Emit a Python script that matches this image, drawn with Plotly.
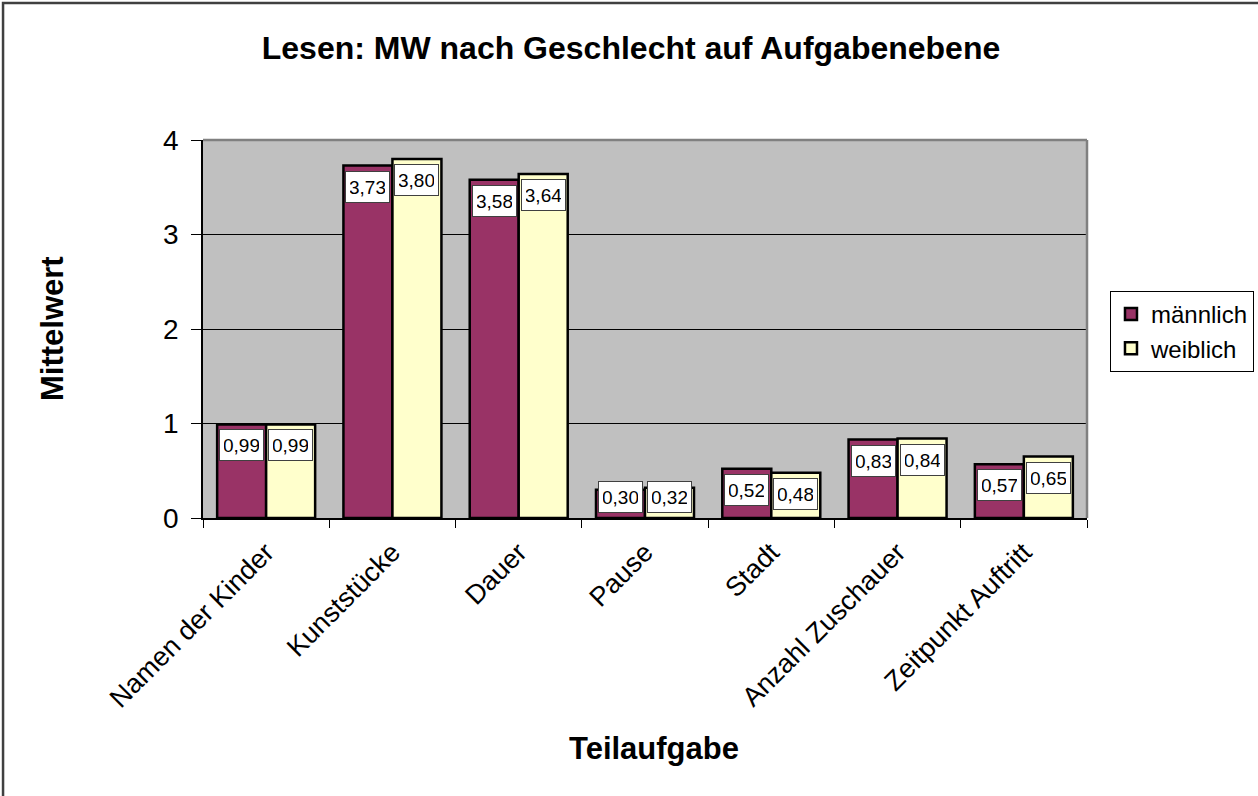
import plotly.graph_objects as go

categories = ["Namen der Kinder", "Kunststücke", "Dauer", "Pause", "Stadt",
              "Anzahl Zuschauer", "Zeitpunkt Auftritt"]
maennlich = [0.99, 3.73, 3.58, 0.30, 0.52, 0.83, 0.57]
weiblich = [0.99, 3.80, 3.64, 0.32, 0.48, 0.84, 0.65]
y_ticks = [0, 1, 2, 3, 4]

FONT = "Arial, Liberation Sans, sans-serif"

fig = go.Figure()
fig.add_trace(go.Bar(name="männlich", x=categories, y=maennlich,
                     marker=dict(color="#993366", line=dict(color="black", width=2.5))))
fig.add_trace(go.Bar(name="weiblich", x=categories, y=weiblich,
                     marker=dict(color="#FFFFCC", line=dict(color="black", width=2.5))))

annotations = []
for series, shift in ((maennlich, -24.5), (weiblich, 24.5)):
    for cat, v in zip(categories, series):
        txt = f"{v:.2f}".replace(".", ",")
        common = dict(x=cat, xshift=shift, text=txt, showarrow=False,
                      font=dict(family=FONT, size=19, color="black"),
                      width=35, height=22,
                      bgcolor="white", bordercolor="#404040", borderwidth=1, borderpad=4)
        if v < 0.45:
            annotations.append(dict(y=0, yanchor="bottom", yshift=5, **common))
        else:
            annotations.append(dict(y=v, yanchor="top", yshift=-5, **common))

# axis titles
annotations.append(dict(xref="paper", yref="paper", x=-0.1708, y=0.5, text="<b>Mittelwert</b>",
                        textangle=-90, showarrow=False, xanchor="center", yanchor="middle",
                        font=dict(family=FONT, size=31, color="black")))
annotations.append(dict(xref="paper", yref="paper", x=0.510, y=-0.6085, text="<b>Teilaufgabe</b>",
                        showarrow=False, xanchor="center", yanchor="middle",
                        font=dict(family=FONT, size=31, color="black")))

shapes = [
    # outer chart frame
    dict(type="rect", xref="paper", yref="paper", x0=-0.2262, y0=-3, x1=3, y1=1.3624,
         line=dict(color="#404040", width=2.5)),
    # plot area gray top/right border
    dict(type="line", xref="paper", yref="paper", x0=0, x1=1, y0=1, y1=1,
         line=dict(color="#808080", width=2.5)),
    dict(type="line", xref="paper", yref="paper", x0=1, x1=1, y0=0, y1=1,
         line=dict(color="#808080", width=2.5)),
]

fig.update_layout(
    width=1258, height=796,
    margin=dict(l=203, r=171, t=140, b=278, autoexpand=False),
    paper_bgcolor="white", plot_bgcolor="#C0C0C0",
    barmode="group", bargap=0.224, bargroupgap=0,
    title=dict(text="<b>Lesen: MW nach Geschlecht auf Aufgabenebene</b>",
               x=0.5016, y=0.9397, xanchor="center", yanchor="middle",
               font=dict(family=FONT, size=32, color="black")),
    font=dict(family=FONT, color="black"),
    legend=dict(x=1.026, y=0.6005, xanchor="left", yanchor="top",
                bordercolor="black", borderwidth=1, bgcolor="white", itemwidth=30,
                font=dict(family=FONT, size=24, color="black")),
    annotations=annotations,
    shapes=shapes,
)
fig.update_xaxes(type="category", showline=True, linecolor="black", linewidth=1.5,
                 ticks="outside", tickson="boundaries", ticklen=8, tickcolor="black",
                 tickangle=-45, tickfont=dict(family=FONT, size=27, color="black"),
                 ticklabelstandoff=6, showgrid=False)
fig.update_yaxes(range=[0, 4], tickvals=y_ticks, showline=True, linecolor="black", linewidth=1.5,
                 ticks="outside", ticklen=10, tickcolor="black",
                 tickfont=dict(family=FONT, size=28, color="black"), ticklabelstandoff=7,
                 showgrid=True, gridcolor="black", gridwidth=1, zeroline=False)

fig.write_html("out.html", config={"displayModeBar": False},
               post_script="document.body.style.margin='0';document.body.style.overflow='hidden';")
